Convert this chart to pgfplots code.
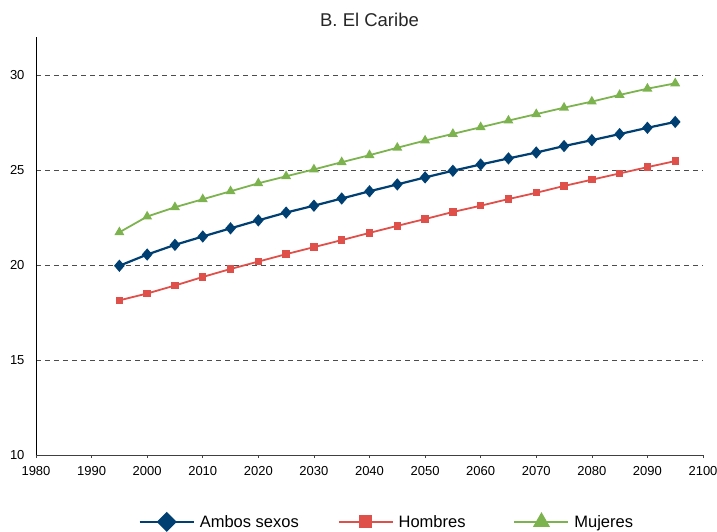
\documentclass[border=0pt]{standalone}
\usepackage{pgfplots}
\pgfplotsset{compat=1.18}
\usepackage{fontspec}
\setmainfont{Liberation Sans}
\definecolor{cblue}{HTML}{003F72}
\definecolor{cred}{HTML}{E0504A}
\definecolor{cgreen}{HTML}{7DB34F}
\begin{document}
\begin{tikzpicture}
\useasboundingbox (-36pt,-77pt) rectangle (681pt,455pt);
\begin{axis}[
  at={(0pt,0pt)}, anchor=south west,
  scale only axis, width=667pt, height=418pt,
  xmin=1980, xmax=2100, ymin=10, ymax=32,
  xtick={1980,1990,...,2100}, ytick={10,15,20,25,30},
  axis lines=left, axis line style={-, black, line width=0.8pt},
  x axis line style={draw=black!75},
  xtick style={draw=black!75, line width=0.6pt},
  ytick style={draw=none},
  tick align=outside, major tick length=3pt,
  /pgf/number format/assume math mode=true,
  /pgf/number format/1000 sep={},
  tick label style={font=\fontsize{13}{15}\selectfont, text=black},
  xticklabel style={yshift=-5pt},
  yticklabel style={xshift=-5pt},
  ymajorgrids, grid style={dashed, dash pattern=on 5pt off 4pt, draw=black!70, line width=0.7pt},
  legend columns=3,
  legend style={at={(0.526,-0.16)}, anchor=center, draw=none, fill=none,
    font=\fontsize{16.5}{18}\selectfont,
    /tikz/every even column/.append style={column sep=37pt},
    /tikz/every odd column/.append style={column sep=3pt}},
  legend image code/.code={\draw[#1, mark repeat=2, mark phase=2, mark options={scale=2}] plot coordinates {(0pt,0pt) (27pt,0pt) (54pt,0pt)};},
  legend cell align=left,
]
\addplot[cblue, line width=2.2pt, mark=diamond*, mark size=4.5pt, mark options={xscale=1.15}, forget plot] coordinates {
(1995,19.96) (2000,20.55) (2005,21.06) (2010,21.5) (2015,21.93) (2020,22.35) (2025,22.76) (2030,23.12) (2035,23.5) (2040,23.88) (2045,24.24) (2050,24.61) (2055,24.96) (2060,25.29) (2065,25.61) (2070,25.92) (2075,26.26) (2080,26.57) (2085,26.89) (2090,27.22) (2095,27.53)};
\addplot[cred, line width=1.8pt, mark=square*, mark size=2.8pt, forget plot] coordinates {
(1995,18.14) (2000,18.5) (2005,18.92) (2010,19.37) (2015,19.79) (2020,20.18) (2025,20.57) (2030,20.94) (2035,21.31) (2040,21.69) (2045,22.06) (2050,22.42) (2055,22.79) (2060,23.12) (2065,23.47) (2070,23.8) (2075,24.16) (2080,24.49) (2085,24.82) (2090,25.15) (2095,25.47)};
\addplot[cgreen, line width=1.8pt, mark=triangle*, mark size=4pt, forget plot] coordinates {
(1995,21.72) (2000,22.55) (2005,23.04) (2010,23.46) (2015,23.88) (2020,24.3) (2025,24.67) (2030,25.03) (2035,25.41) (2040,25.78) (2045,26.17) (2050,26.55) (2055,26.9) (2060,27.25) (2065,27.6) (2070,27.94) (2075,28.28) (2080,28.6) (2085,28.95) (2090,29.28) (2095,29.56)};
\addlegendimage{legend image code/.code={\draw[cblue, line width=2.2pt, mark=diamond*, mark size=4.2pt, mark repeat=2, mark phase=2, mark options={scale=2, xscale=1.35}] plot coordinates {(0pt,0pt) (27pt,0pt) (54pt,0pt)};}}
\addlegendentry{Ambos sexos}
\addlegendimage{cred, line width=1.8pt, mark=square*, mark size=2.8pt}
\addlegendentry{Hombres\rule{9pt}{0pt}}
\addlegendimage{cgreen, line width=1.8pt, mark=triangle*, mark size=4pt}
\addlegendentry{Mujeres}
\end{axis}
\node[font=\fontsize{18.5}{20}\selectfont, text=black!85] at (333.5pt,435pt) {B. El Caribe};
\end{tikzpicture}
\end{document}
